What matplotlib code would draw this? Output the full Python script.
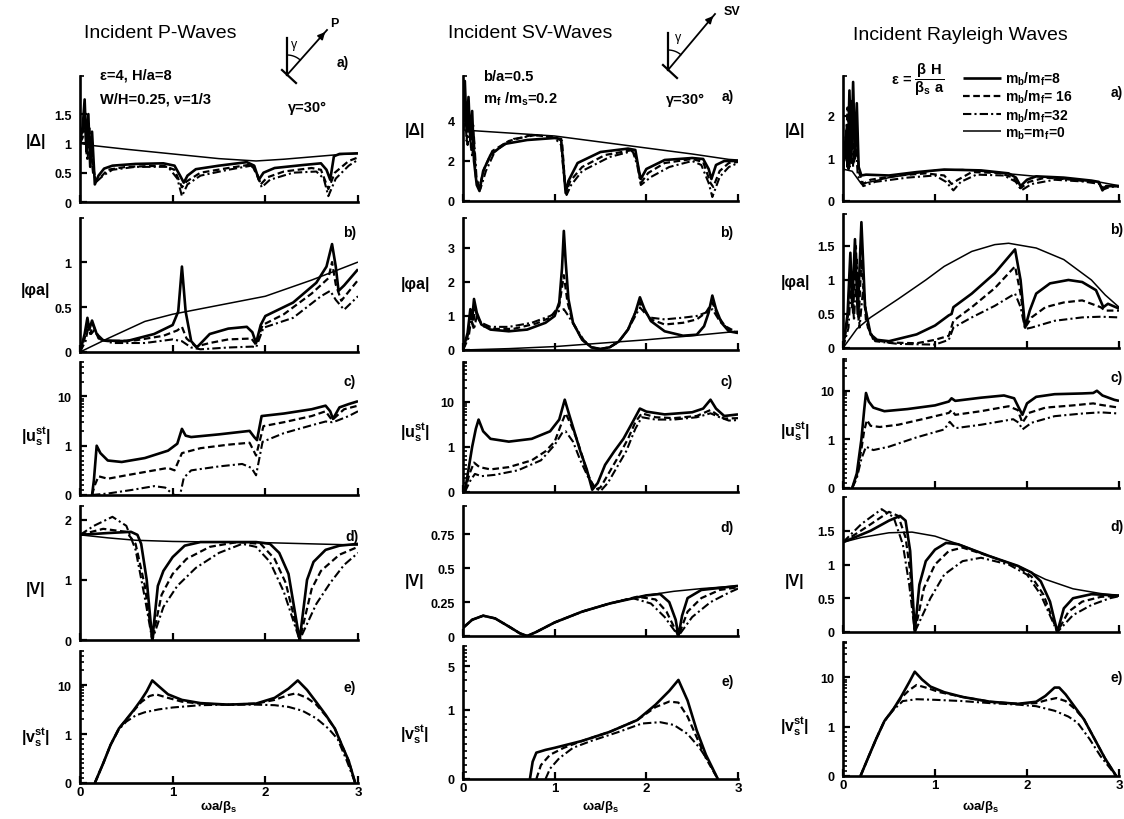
import numpy as np
import matplotlib
matplotlib.use("Agg")
import matplotlib.pyplot as plt
from matplotlib.lines import Line2D

plt.rcParams['font.family'] = ['Liberation Sans', 'DejaVu Sans']
plt.rcParams['mathtext.default'] = 'regular'

# ---------------- data ----------------
# each series is a list of (omega*a/beta_s, value) pairs
# m8 = solid, m16 = dashed, m32 = dash-dot, m0 = thin solid

# Incident P-waves
P_DELTA_M8 = [(0, 1.0), (0.03, 1.3), (0.05, 1.75), (0.07, 0.9), (0.09, 1.5), (0.11, 0.6), (0.13, 1.2), (0.16, 0.3),
              (0.2, 0.45), (0.26, 0.57), (0.35, 0.62), (0.6, 0.65), (0.9, 0.66), (1.02, 0.62), (1.08, 0.45),
              (1.12, 0.33), (1.16, 0.45), (1.25, 0.56), (1.5, 0.62), (1.8, 0.68), (1.88, 0.62), (1.93, 0.38),
              (1.98, 0.5), (2.1, 0.58), (2.4, 0.63), (2.6, 0.66), (2.66, 0.55), (2.7, 0.38), (2.74, 0.78),
              (2.8, 0.82), (3.0, 0.83)]
P_DELTA_M16 = [(0, 1.0), (0.03, 1.2), (0.05, 1.5), (0.07, 0.8), (0.1, 1.3), (0.13, 0.7), (0.17, 0.35), (0.22, 0.42),
               (0.3, 0.55), (0.5, 0.6), (0.9, 0.62), (1.02, 0.55), (1.1, 0.25), (1.15, 0.35), (1.3, 0.5),
               (1.6, 0.58), (1.85, 0.64), (1.9, 0.5), (1.95, 0.3), (2.02, 0.42), (2.2, 0.52), (2.5, 0.58),
               (2.6, 0.55), (2.68, 0.22), (2.75, 0.5), (2.9, 0.7), (3.0, 0.76)]
P_DELTA_M32 = [(0, 1.0), (0.03, 1.1), (0.05, 1.4), (0.08, 0.7), (0.1, 1.1), (0.14, 0.5), (0.18, 0.35), (0.25, 0.45),
               (0.35, 0.55), (0.6, 0.6), (0.95, 0.6), (1.05, 0.4), (1.1, 0.1), (1.16, 0.3), (1.3, 0.45),
               (1.6, 0.55), (1.85, 0.62), (1.92, 0.45), (1.96, 0.25), (2.05, 0.38), (2.3, 0.5), (2.55, 0.52),
               (2.63, 0.4), (2.68, 0.1), (2.76, 0.4), (2.9, 0.62), (3.0, 0.72)]
P_DELTA_M0 = [(0, 1.0), (0.1, 0.97), (0.5, 0.9), (1.0, 0.82), (1.5, 0.74), (1.9, 0.7), (2.2, 0.73), (2.5, 0.77),
              (2.8, 0.81), (3.0, 0.83)]

P_PHI_M8 = [(0, 0), (0.05, 0.2), (0.08, 0.38), (0.1, 0.25), (0.13, 0.35), (0.18, 0.2), (0.25, 0.13), (0.5, 0.12),
            (0.8, 0.2), (1.0, 0.3), (1.06, 0.45), (1.1, 0.95), (1.14, 0.45), (1.2, 0.12), (1.26, 0.05), (1.4, 0.2),
            (1.6, 0.26), (1.8, 0.28), (1.86, 0.22), (1.9, 0.1), (1.95, 0.3), (2.0, 0.4), (2.3, 0.55), (2.55, 0.77),
            (2.66, 0.95), (2.72, 1.2), (2.76, 0.95), (2.79, 0.68), (2.85, 0.74), (3.0, 0.92)]
P_PHI_M16 = [(0, 0), (0.05, 0.15), (0.08, 0.33), (0.11, 0.2), (0.14, 0.3), (0.2, 0.15), (0.3, 0.12), (0.6, 0.13),
             (0.9, 0.18), (1.05, 0.24), (1.1, 0.28), (1.15, 0.15), (1.25, 0.06), (1.4, 0.1), (1.6, 0.14),
             (1.85, 0.15), (1.9, 0.08), (1.97, 0.3), (2.2, 0.42), (2.5, 0.65), (2.68, 0.82), (2.72, 1.0),
             (2.76, 0.75), (2.82, 0.57), (3.0, 0.8)]
P_PHI_M32 = [(0, 0), (0.06, 0.12), (0.09, 0.28), (0.12, 0.2), (0.16, 0.25), (0.22, 0.14), (0.35, 0.1), (0.7, 0.1),
             (1.0, 0.14), (1.1, 0.12), (1.2, 0.05), (1.3, 0.03), (1.6, 0.05), (1.86, 0.06), (1.9, 0.05),
             (1.98, 0.27), (2.3, 0.38), (2.6, 0.62), (2.7, 0.68), (2.76, 0.58), (2.85, 0.47), (3.0, 0.62)]
P_PHI_M0 = [(0, 0), (0.3, 0.15), (0.7, 0.34), (1.0, 0.42), (1.5, 0.52), (2.0, 0.62), (2.5, 0.8), (2.75, 0.9),
            (3.0, 1.0)]

P_U_M8 = [(0.13, 0), (0.15, 0.3), (0.18, 1.0), (0.22, 0.85), (0.3, 0.7), (0.45, 0.67), (0.7, 0.75), (0.95, 0.9),
          (1.05, 1.1), (1.1, 2.2), (1.14, 1.6), (1.2, 1.5), (1.5, 1.7), (1.83, 2.0), (1.88, 1.5), (1.91, 1.3),
          (1.96, 4.0), (2.2, 4.5), (2.5, 5.5), (2.65, 6.5), (2.7, 5.0), (2.73, 3.5), (2.8, 6.0), (2.9, 7.0),
          (3.0, 8.0)]
P_U_M16 = [(0.13, 0), (0.16, 0.2), (0.2, 0.38), (0.3, 0.33), (0.5, 0.4), (0.8, 0.5), (0.95, 0.55), (1.02, 0.5),
           (1.1, 0.85), (1.3, 0.95), (1.6, 1.05), (1.83, 1.15), (1.9, 0.8), (1.98, 2.5), (2.2, 3.0), (2.5, 4.0),
           (2.65, 5.0), (2.72, 3.3), (2.85, 5.5), (3.0, 6.5)]
P_U_M32 = [(0.13, 0), (0.3, 0.03), (0.55, 0.1), (0.8, 0.18), (0.92, 0.15), (0.98, 0.05), (1.02, 0.0), (1.08, 0.0),
           (1.12, 0.35), (1.2, 0.5), (1.5, 0.58), (1.75, 0.63), (1.85, 0.55), (1.9, 0.4), (1.97, 1.2), (2.2, 1.8),
           (2.5, 2.6), (2.65, 3.1), (2.72, 3.0), (2.77, 3.2), (2.9, 4.0), (3.0, 5.0)]

P_V_M8 = [(0, 1.75), (0.3, 1.78), (0.55, 1.8), (0.62, 1.75), (0.66, 1.6), (0.72, 1.0), (0.78, 0.0), (0.84, 0.9),
          (0.9, 1.15), (1.0, 1.38), (1.13, 1.57), (1.3, 1.63), (1.9, 1.63), (2.05, 1.6), (2.15, 1.45), (2.25, 1.1),
          (2.37, 0), (2.45, 1.0), (2.52, 1.3), (2.65, 1.5), (2.8, 1.57), (3.0, 1.6)]
P_V_M16 = [(0, 1.75), (0.25, 1.85), (0.5, 1.8), (0.6, 1.6), (0.7, 0.9), (0.78, 0.0), (0.88, 0.75), (1.0, 1.1),
           (1.15, 1.35), (1.4, 1.55), (1.7, 1.63), (1.95, 1.6), (2.1, 1.35), (2.22, 0.95), (2.37, 0), (2.5, 0.85),
           (2.6, 1.15), (2.8, 1.42), (3.0, 1.55)]
P_V_M32 = [(0, 1.75), (0.15, 1.9), (0.35, 2.05), (0.5, 1.9), (0.6, 1.5), (0.7, 0.7), (0.78, 0.0), (0.9, 0.55),
           (1.05, 0.9), (1.25, 1.2), (1.5, 1.45), (1.75, 1.6), (1.9, 1.55), (2.05, 1.3), (2.2, 0.8), (2.37, 0),
           (2.55, 0.6), (2.7, 0.95), (2.85, 1.25), (3.0, 1.45)]
P_V_M0 = [(0, 1.75), (0.3, 1.7), (0.6, 1.66), (1.0, 1.64), (1.5, 1.63), (2.0, 1.62), (2.5, 1.6), (3.0, 1.58)]

P_VS_M8 = [(0.16, 0), (0.25, 0.4), (0.33, 0.78), (0.42, 1.3), (0.5, 2.0), (0.58, 3.1), (0.66, 5.0), (0.72, 7.5),
           (0.78, 12.5), (0.85, 9.5), (0.95, 6.5), (1.1, 5.0), (1.3, 4.3), (1.6, 4.0), (1.9, 4.2), (2.1, 5.5),
           (2.25, 8.5), (2.35, 12.5), (2.45, 8.0), (2.55, 4.5), (2.65, 2.5), (2.75, 1.3), (2.82, 0.8),
           (2.9, 0.45), (2.97, 0)]
P_VS_M16 = [(0.16, 0), (0.25, 0.4), (0.33, 0.78), (0.42, 1.3), (0.5, 2.0), (0.58, 3.0), (0.66, 4.5), (0.75, 6.0),
            (0.82, 6.5), (0.95, 5.5), (1.1, 4.6), (1.3, 4.2), (1.6, 4.0), (1.9, 4.2), (2.1, 5.0), (2.25, 6.3),
            (2.33, 6.8), (2.45, 5.5), (2.55, 4.0), (2.65, 2.4), (2.75, 1.3), (2.82, 0.8), (2.9, 0.45), (2.97, 0)]
P_VS_M32 = [(0.16, 0), (0.25, 0.4), (0.33, 0.78), (0.42, 1.25), (0.5, 1.8), (0.6, 2.4), (0.7, 2.8), (0.85, 3.2),
            (1.0, 3.5), (1.3, 3.9), (1.6, 4.0), (1.9, 4.0), (2.1, 3.9), (2.25, 3.6), (2.4, 3.0), (2.55, 2.1),
            (2.68, 1.3), (2.78, 0.9), (2.88, 0.45), (2.97, 0)]

# Incident SV-waves
SV_DELTA_M8 = [(0, 3.5), (0.02, 6.0), (0.04, 3.5), (0.06, 5.2), (0.08, 3.0), (0.1, 4.5), (0.12, 2.0), (0.15, 0.8),
               (0.18, 0.5), (0.22, 1.5), (0.3, 2.3), (0.45, 2.85), (0.7, 3.05), (1.0, 3.15), (1.07, 3.1),
               (1.1, 1.5), (1.12, 0.4), (1.15, 1.0), (1.25, 1.9), (1.5, 2.45), (1.8, 2.62), (1.88, 2.55),
               (1.92, 1.5), (1.94, 1.1), (2.0, 1.6), (2.2, 2.05), (2.5, 2.15), (2.62, 2.1), (2.68, 1.6),
               (2.71, 1.1), (2.76, 1.8), (2.85, 2.0), (3.0, 2.0)]
SV_DELTA_M16 = [(0, 3.5), (0.02, 4.8), (0.04, 3.0), (0.06, 4.5), (0.09, 2.5), (0.11, 3.8), (0.14, 1.2), (0.18, 0.7),
                (0.23, 1.6), (0.32, 2.5), (0.5, 3.0), (0.75, 3.3), (1.0, 3.2), (1.08, 3.0), (1.11, 1.0),
                (1.13, 0.5), (1.17, 1.0), (1.3, 1.7), (1.55, 2.3), (1.85, 2.55), (1.9, 2.0), (1.94, 0.9),
                (2.02, 1.4), (2.2, 1.9), (2.5, 2.1), (2.62, 1.95), (2.7, 0.9), (2.73, 0.7), (2.8, 1.5),
                (2.9, 1.9), (3.0, 1.95)]
SV_DELTA_M32 = [(0, 3.5), (0.03, 4.5), (0.05, 2.8), (0.07, 4.0), (0.1, 2.2), (0.12, 3.2), (0.15, 1.0), (0.19, 0.6),
                (0.25, 1.5), (0.35, 2.5), (0.55, 3.1), (0.8, 3.3), (1.0, 3.15), (1.07, 2.8), (1.1, 1.3),
                (1.13, 0.3), (1.18, 0.8), (1.3, 1.5), (1.6, 2.2), (1.85, 2.5), (1.9, 1.8), (1.94, 0.8),
                (2.05, 1.2), (2.25, 1.7), (2.5, 2.0), (2.6, 1.8), (2.68, 0.9), (2.72, 0.2), (2.8, 1.2),
                (2.9, 1.7), (3.0, 1.9)]
SV_DELTA_M0 = [(0, 3.55), (0.5, 3.4), (1.0, 3.25), (1.5, 2.95), (2.0, 2.65), (2.5, 2.35), (2.9, 2.08), (3.0, 2.05)]

SV_PHI_M8 = [(0, 0), (0.05, 0.5), (0.08, 1.2), (0.1, 0.9), (0.12, 1.5), (0.15, 1.1), (0.2, 0.75), (0.3, 0.6),
             (0.5, 0.55), (0.7, 0.6), (0.9, 0.8), (1.0, 1.0), (1.05, 1.4), (1.08, 2.4), (1.1, 3.5), (1.12, 2.6),
             (1.15, 1.5), (1.2, 0.8), (1.3, 0.3), (1.4, 0.08), (1.5, 0.03), (1.6, 0.08), (1.7, 0.25), (1.8, 0.6),
             (1.88, 1.1), (1.93, 1.55), (1.98, 1.2), (2.05, 0.85), (2.2, 0.55), (2.4, 0.42), (2.55, 0.45),
             (2.63, 0.7), (2.68, 1.1), (2.72, 1.6), (2.76, 1.2), (2.82, 0.8), (2.9, 0.55), (3.0, 0.5)]
SV_PHI_M16 = [(0, 0), (0.05, 0.4), (0.08, 1.0), (0.11, 0.7), (0.13, 1.2), (0.17, 0.9), (0.22, 0.7), (0.35, 0.62),
              (0.55, 0.62), (0.8, 0.78), (0.95, 0.95), (1.05, 1.3), (1.1, 2.2), (1.14, 1.4), (1.2, 0.8),
              (1.3, 0.3), (1.4, 0.08), (1.5, 0.03), (1.6, 0.08), (1.7, 0.25), (1.8, 0.6), (1.88, 1.1),
              (1.93, 1.4), (1.98, 1.15), (2.05, 0.9), (2.2, 0.75), (2.4, 0.8), (2.55, 0.9), (2.65, 1.1),
              (2.72, 1.4), (2.78, 1.0), (2.86, 0.7), (3.0, 0.5)]
SV_PHI_M32 = [(0, 0), (0.06, 0.35), (0.09, 0.9), (0.12, 0.6), (0.15, 1.0), (0.2, 0.8), (0.3, 0.68), (0.5, 0.68),
              (0.75, 0.8), (0.95, 1.0), (1.05, 1.15), (1.1, 1.2), (1.15, 1.0), (1.22, 0.7), (1.32, 0.28),
              (1.42, 0.06), (1.5, 0.03), (1.6, 0.08), (1.7, 0.25), (1.8, 0.6), (1.88, 1.0), (1.93, 1.25),
              (1.98, 1.1), (2.05, 0.95), (2.2, 0.9), (2.4, 0.95), (2.55, 1.0), (2.65, 1.1), (2.72, 1.2),
              (2.8, 0.85), (2.9, 0.6), (3.0, 0.5)]
SV_PHI_M0 = [(0, 0), (0.5, 0.04), (1.0, 0.1), (1.5, 0.2), (2.0, 0.3), (2.5, 0.42), (3.0, 0.55)]

SV_U_M8 = [(0.02, 0), (0.06, 0.5), (0.1, 1.0), (0.14, 2.5), (0.17, 4.0), (0.22, 2.2), (0.3, 1.5), (0.5, 1.3),
           (0.75, 1.5), (0.95, 2.2), (1.05, 4.0), (1.11, 11.0), (1.16, 5.0), (1.22, 2.0), (1.28, 0.9), (1.35, 0.5),
           (1.41, 0.05), (1.47, 0.2), (1.55, 0.6), (1.65, 0.9), (1.75, 1.5), (1.85, 3.5), (1.93, 7.0), (2.0, 6.0),
           (2.2, 5.2), (2.5, 5.8), (2.62, 7.0), (2.7, 11.0), (2.76, 7.0), (2.85, 4.8), (3.0, 5.2)]
SV_U_M16 = [(0.02, 0), (0.07, 0.4), (0.12, 0.65), (0.18, 0.55), (0.3, 0.5), (0.5, 0.55), (0.75, 0.7), (0.9, 0.9),
            (1.0, 1.3), (1.08, 3.5), (1.12, 5.5), (1.18, 3.0), (1.24, 1.5), (1.3, 0.8), (1.36, 0.4), (1.44, 0.05),
            (1.5, 0.1), (1.6, 0.45), (1.7, 0.8), (1.8, 1.5), (1.88, 3.5), (1.95, 5.5), (2.1, 4.5), (2.3, 4.3),
            (2.55, 4.8), (2.7, 6.5), (2.78, 5.0), (2.85, 4.2), (3.0, 4.3)]
SV_U_M32 = [(0.02, 0), (0.08, 0.25), (0.13, 0.4), (0.2, 0.35), (0.35, 0.38), (0.6, 0.48), (0.85, 0.7), (1.0, 1.1),
            (1.08, 2.0), (1.12, 2.2), (1.2, 1.3), (1.28, 0.7), (1.36, 0.35), (1.44, 0.1), (1.5, 0.02), (1.58, 0.2),
            (1.68, 0.55), (1.78, 0.9), (1.88, 2.5), (1.95, 4.5), (2.1, 4.0), (2.3, 4.0), (2.55, 4.5), (2.7, 5.5),
            (2.8, 4.5), (2.9, 3.8), (3.0, 3.9)]

SV_V_M0 = [(0, 0.06), (0.1, 0.12), (0.22, 0.15), (0.35, 0.13), (0.5, 0.07), (0.62, 0.02), (0.7, 0.0), (0.8, 0.03),
           (1.0, 0.1), (1.3, 0.18), (1.6, 0.24), (2.0, 0.3), (2.3, 0.33), (2.6, 0.35), (3.0, 0.37)]
SV_V_M8 = [(0, 0.06), (0.1, 0.12), (0.22, 0.15), (0.35, 0.13), (0.5, 0.07), (0.62, 0.02), (0.7, 0.0), (0.8, 0.03),
           (1.0, 0.1), (1.3, 0.18), (1.6, 0.24), (2.0, 0.3), (2.15, 0.31), (2.25, 0.25), (2.32, 0.12), (2.35, 0.0),
           (2.39, 0.15), (2.45, 0.28), (2.6, 0.34), (3.0, 0.37)]
SV_V_M16 = [(0, 0.06), (0.1, 0.12), (0.22, 0.15), (0.35, 0.13), (0.5, 0.07), (0.62, 0.02), (0.7, 0.0), (0.8, 0.03),
            (1.0, 0.1), (1.3, 0.18), (1.6, 0.24), (1.9, 0.29), (2.1, 0.27), (2.22, 0.18), (2.35, 0.0), (2.45, 0.18),
            (2.6, 0.28), (2.8, 0.34), (3.0, 0.36)]
SV_V_M32 = [(0, 0.06), (0.1, 0.12), (0.22, 0.15), (0.35, 0.13), (0.5, 0.07), (0.62, 0.02), (0.7, 0.0), (0.8, 0.03),
            (1.0, 0.1), (1.3, 0.18), (1.6, 0.24), (1.85, 0.28), (2.05, 0.24), (2.2, 0.14), (2.35, 0.0), (2.5, 0.14),
            (2.7, 0.25), (2.9, 0.32), (3.0, 0.35)]

SV_VS_M8 = [(0.73, 0), (0.76, 0.25), (0.8, 0.38), (0.9, 0.42), (1.0, 0.45), (1.3, 0.55), (1.6, 0.68), (1.9, 0.85),
            (2.1, 1.2), (2.25, 2.0), (2.35, 3.0), (2.45, 1.4), (2.55, 0.7), (2.65, 0.35), (2.78, 0)]
SV_VS_M16 = [(0.8, 0), (0.85, 0.2), (0.95, 0.35), (1.1, 0.45), (1.3, 0.55), (1.6, 0.68), (1.9, 0.85), (2.1, 1.1),
             (2.25, 1.35), (2.35, 1.3), (2.45, 0.9), (2.55, 0.6), (2.65, 0.3), (2.78, 0)]
SV_VS_M32 = [(0.9, 0), (0.95, 0.15), (1.05, 0.3), (1.2, 0.45), (1.4, 0.55), (1.7, 0.68), (1.95, 0.8), (2.15, 0.82),
             (2.3, 0.78), (2.45, 0.65), (2.58, 0.45), (2.68, 0.25), (2.78, 0)]

# Incident Rayleigh waves
R_DELTA_M8 = [(0, 0.7), (0.03, 1.5), (0.05, 0.8), (0.07, 2.6), (0.09, 0.9), (0.11, 2.8), (0.13, 1.0), (0.15, 2.3),
              (0.17, 0.8), (0.2, 0.6), (0.25, 0.62), (0.5, 0.6), (0.8, 0.68), (1.1, 0.74), (1.5, 0.72),
              (1.8, 0.65), (1.88, 0.55), (1.93, 0.35), (2.0, 0.5), (2.1, 0.58), (2.4, 0.55), (2.7, 0.48),
              (2.78, 0.45), (2.82, 0.25), (2.86, 0.35), (3.0, 0.35)]
R_DELTA_M16 = [(0, 0.7), (0.03, 1.2), (0.05, 2.2), (0.07, 0.8), (0.1, 2.4), (0.12, 0.9), (0.14, 2.0), (0.17, 0.7),
               (0.22, 0.4), (0.3, 0.5), (0.6, 0.6), (0.9, 0.65), (1.1, 0.6), (1.18, 0.4), (1.25, 0.5), (1.4, 0.68),
               (1.7, 0.66), (1.85, 0.55), (1.93, 0.3), (2.02, 0.45), (2.2, 0.55), (2.5, 0.5), (2.78, 0.43),
               (2.82, 0.28), (2.88, 0.35), (3.0, 0.35)]
R_DELTA_M32 = [(0, 0.7), (0.04, 1.8), (0.06, 0.7), (0.08, 2.1), (0.11, 0.8), (0.13, 1.7), (0.16, 0.6), (0.22, 0.35),
               (0.35, 0.45), (0.7, 0.55), (1.0, 0.6), (1.12, 0.45), (1.2, 0.25), (1.28, 0.45), (1.45, 0.62),
               (1.75, 0.6), (1.88, 0.45), (1.94, 0.25), (2.05, 0.4), (2.3, 0.5), (2.6, 0.46), (2.8, 0.4),
               (2.84, 0.28), (2.9, 0.33), (3.0, 0.34)]
R_DELTA_M0 = [(0, 0.75), (0.1, 0.7), (0.2, 0.4), (0.5, 0.55), (1.0, 0.72), (1.3, 0.74), (1.6, 0.68), (2.0, 0.6),
              (2.5, 0.5), (2.8, 0.44), (3.0, 0.36)]

R_PHI_M8 = [(0, 0), (0.05, 0.5), (0.08, 1.4), (0.1, 0.6), (0.13, 1.6), (0.16, 0.5), (0.2, 1.85), (0.24, 0.6),
            (0.3, 0.2), (0.37, 0.12), (0.5, 0.1), (0.8, 0.2), (1.0, 0.33), (1.15, 0.48), (1.18, 0.5), (1.2, 0.6),
            (1.4, 0.8), (1.65, 1.1), (1.87, 1.45), (1.93, 1.0), (1.98, 0.3), (2.03, 0.55), (2.1, 0.8),
            (2.25, 0.95), (2.45, 1.0), (2.6, 0.97), (2.75, 0.85), (2.83, 0.6), (2.88, 0.65), (3.0, 0.58)]
R_PHI_M16 = [(0, 0), (0.05, 0.4), (0.08, 1.2), (0.11, 0.5), (0.14, 1.5), (0.17, 0.4), (0.2, 1.3), (0.25, 0.4),
             (0.33, 0.12), (0.5, 0.08), (0.8, 0.07), (1.0, 0.12), (1.15, 0.18), (1.2, 0.4), (1.4, 0.6),
             (1.65, 0.88), (1.87, 1.2), (1.93, 0.8), (1.98, 0.3), (2.05, 0.45), (2.2, 0.6), (2.4, 0.67),
             (2.6, 0.7), (2.8, 0.6), (2.85, 0.55), (3.0, 0.55)]
R_PHI_M32 = [(0, 0), (0.06, 0.3), (0.09, 1.0), (0.12, 0.4), (0.15, 1.3), (0.18, 0.3), (0.22, 0.9), (0.27, 0.3),
             (0.35, 0.1), (0.6, 0.06), (1.0, 0.05), (1.15, 0.12), (1.2, 0.3), (1.4, 0.45), (1.65, 0.62),
             (1.87, 0.8), (1.93, 0.6), (1.98, 0.28), (2.05, 0.3), (2.3, 0.4), (2.6, 0.45), (2.8, 0.46), (3.0, 0.45)]
R_PHI_M0 = [(0, 0), (0.15, 0.28), (0.3, 0.45), (0.6, 0.72), (0.9, 1.0), (1.1, 1.2), (1.4, 1.42), (1.65, 1.52),
            (1.8, 1.54), (2.1, 1.47), (2.4, 1.3), (2.7, 1.0), (2.85, 0.78), (3.0, 0.6)]

R_U_M8 = [(0.1, 0), (0.15, 0.3), (0.2, 1.0), (0.23, 4.0), (0.25, 9.0), (0.28, 6.0), (0.33, 4.5), (0.45, 3.8),
          (0.7, 4.2), (1.0, 5.0), (1.15, 6.0), (1.18, 7.0), (1.22, 6.2), (1.5, 7.2), (1.75, 8.0), (1.86, 7.0),
          (1.91, 4.5), (1.95, 3.2), (2.0, 5.5), (2.1, 7.5), (2.3, 8.5), (2.6, 8.8), (2.72, 9.0), (2.76, 10.0),
          (2.82, 8.0), (2.95, 6.5), (3.0, 6.2)]
R_U_M16 = [(0.1, 0), (0.15, 0.25), (0.2, 0.8), (0.23, 1.5), (0.26, 2.5), (0.3, 1.9), (0.4, 1.8), (0.6, 2.0),
           (0.9, 2.7), (1.15, 3.5), (1.18, 4.0), (1.22, 3.2), (1.5, 3.8), (1.8, 4.8), (1.9, 4.0), (1.95, 2.2),
           (2.02, 3.5), (2.2, 4.5), (2.5, 5.0), (2.72, 5.5), (2.78, 5.2), (2.9, 4.8), (3.0, 4.5)]
R_U_M32 = [(0.1, 0), (0.15, 0.2), (0.2, 0.6), (0.25, 0.85), (0.33, 0.78), (0.5, 0.85), (0.8, 1.1), (1.1, 1.6),
           (1.16, 2.3), (1.22, 1.7), (1.5, 2.0), (1.85, 2.6), (1.91, 2.2), (1.95, 1.6), (2.05, 2.2), (2.3, 3.0),
           (2.6, 3.4), (2.8, 3.6), (3.0, 3.4)]

R_V_M0 = [(0, 1.33), (0.2, 1.4), (0.5, 1.47), (0.75, 1.48), (1.0, 1.42), (1.3, 1.28), (1.6, 1.12), (1.9, 0.98),
          (2.2, 0.78), (2.5, 0.64), (2.8, 0.57), (3.0, 0.54)]
R_V_M8 = [(0, 1.33), (0.3, 1.5), (0.5, 1.65), (0.62, 1.72), (0.68, 1.65), (0.73, 1.2), (0.78, 0.0), (0.83, 0.7),
          (0.9, 1.05), (1.0, 1.22), (1.12, 1.32), (1.25, 1.3), (1.6, 1.12), (1.9, 0.98), (2.05, 0.88), (2.15, 0.75),
          (2.25, 0.45), (2.33, 0.0), (2.4, 0.35), (2.5, 0.5), (2.7, 0.56), (3.0, 0.54)]
R_V_M16 = [(0, 1.33), (0.25, 1.55), (0.5, 1.78), (0.6, 1.72), (0.68, 1.4), (0.73, 0.9), (0.78, 0.0), (0.88, 0.65),
           (1.0, 1.0), (1.15, 1.2), (1.3, 1.25), (1.6, 1.12), (1.9, 0.97), (2.05, 0.82), (2.18, 0.55), (2.33, 0.0),
           (2.45, 0.3), (2.6, 0.45), (2.8, 0.52), (3.0, 0.54)]
R_V_M32 = [(0, 1.33), (0.2, 1.6), (0.42, 1.82), (0.55, 1.7), (0.65, 1.3), (0.72, 0.7), (0.78, 0.0), (0.95, 0.5),
           (1.1, 0.85), (1.3, 1.05), (1.5, 1.1), (1.8, 1.0), (2.0, 0.85), (2.15, 0.55), (2.33, 0.0), (2.5, 0.25),
           (2.7, 0.4), (2.9, 0.5), (3.0, 0.53)]

R_VS_M8 = [(0.19, 0), (0.28, 0.4), (0.36, 0.75), (0.45, 1.3), (0.55, 2.3), (0.63, 4.0), (0.72, 8.0), (0.78, 13.0),
           (0.86, 9.0), (0.95, 6.5), (1.1, 5.0), (1.3, 4.0), (1.6, 3.2), (1.9, 2.9), (2.1, 3.2), (2.2, 4.2),
           (2.3, 6.2), (2.35, 6.2), (2.42, 4.5), (2.52, 2.5), (2.62, 1.4), (2.72, 0.8), (2.85, 0.35), (2.97, 0)]
R_VS_M16 = [(0.19, 0), (0.28, 0.4), (0.36, 0.75), (0.45, 1.3), (0.55, 2.3), (0.63, 3.8), (0.72, 5.5), (0.8, 7.0),
            (0.9, 6.2), (1.05, 5.0), (1.3, 4.0), (1.6, 3.2), (1.9, 2.9), (2.1, 3.0), (2.2, 3.4), (2.32, 3.8),
            (2.42, 3.3), (2.52, 2.3), (2.62, 1.4), (2.72, 0.8), (2.85, 0.35), (2.97, 0)]
R_VS_M32 = [(0.19, 0), (0.28, 0.4), (0.36, 0.75), (0.45, 1.3), (0.55, 2.2), (0.65, 3.3), (0.8, 3.6), (1.0, 3.5),
            (1.3, 3.3), (1.6, 3.0), (1.9, 2.8), (2.1, 2.6), (2.3, 2.1), (2.45, 1.6), (2.55, 1.2), (2.68, 0.75),
            (2.8, 0.4), (2.97, 0)]

TITLES = ["Incident P-Waves", "Incident SV-Waves", "Incident Rayleigh Waves"]
YLABELS = ["|Δ|", "|φa|", "|u$_s^{st}$|", "|V|", "|v$_s^{st}$|"]
LEGEND_LABELS = ["m$_b$/m$_f$=8", "m$_b$/m$_f$= 16", "m$_b$/m$_f$=32", "m$_b$=m$_f$=0"]

# y ticks and limits per column / row
YTICKS = [
    [[0, 0.5, 1, 1.5], [0, 0.5, 1], [0, 1, 10], [0, 1, 2], [0, 1, 10]],
    [[0, 2, 4], [0, 1, 2, 3], [0, 1, 10], [0, 0.25, 0.5, 0.75], [0, 1, 5]],
    [[0, 1, 2], [0, 0.5, 1, 1.5], [0, 1, 10], [0, 0.5, 1, 1.5], [0, 1, 10]],
]
YTICKLABELS = [
    [["0", "0.5", "1", "1.5"], ["0", "0.5", "1"], ["0", "1", "10"], ["0", "1", "2"], ["0", "1", "10"]],
    [["0", "2", "4"], ["0", "1", "2", "3"], ["0", "1", "10"], ["0", "0.25", "0.5", "0.75"], ["0", "1", "5"]],
    [["0", "1", "2"], ["0", "0.5", "1", "1.5"], ["0", "1", "10"], ["0", "0.5", "1", "1.5"], ["0", "1", "10"]],
]
YTOP = [
    [2.15, 1.49, 50, 2.23, 50],
    [6.25, 3.88, 75, 0.96, 10.5],
    [2.94, 1.97, 45, 2.0, 52],
]

SERIES = [
    [(P_DELTA_M8, P_DELTA_M16, P_DELTA_M32, P_DELTA_M0), (P_PHI_M8, P_PHI_M16, P_PHI_M32, P_PHI_M0),
     (P_U_M8, P_U_M16, P_U_M32, None), (P_V_M8, P_V_M16, P_V_M32, P_V_M0), (P_VS_M8, P_VS_M16, P_VS_M32, None)],
    [(SV_DELTA_M8, SV_DELTA_M16, SV_DELTA_M32, SV_DELTA_M0), (SV_PHI_M8, SV_PHI_M16, SV_PHI_M32, SV_PHI_M0),
     (SV_U_M8, SV_U_M16, SV_U_M32, None), (SV_V_M8, SV_V_M16, SV_V_M32, SV_V_M0),
     (SV_VS_M8, SV_VS_M16, SV_VS_M32, None)],
    [(R_DELTA_M8, R_DELTA_M16, R_DELTA_M32, R_DELTA_M0), (R_PHI_M8, R_PHI_M16, R_PHI_M32, R_PHI_M0),
     (R_U_M8, R_U_M16, R_U_M32, None), (R_V_M8, R_V_M16, R_V_M32, R_V_M0), (R_VS_M8, R_VS_M16, R_VS_M32, None)],
]

# ---------------- layout (pixels of the 1124x820 picture) ----------------
W, H = 1124, 820
COL_X = [(80, 358), (463, 738), (843, 1119)]
ROW_Y = [
    [(77, 203), (219, 353), (363, 496), (507, 641), (652, 784)],
    [(77, 202), (219, 351), (363, 493), (507, 637), (647, 780)],
    [(77, 202), (215, 349), (360, 489), (498, 633), (643, 777)],
]
LETTER_POS = [
    [(343, 63), (350, 233), (350, 382), (352, 537), (350, 688)],
    [(728, 97), (727, 233), (727, 382), (727, 528), (728, 682)],
    [(1117, 93), (1117, 230), (1117, 378), (1117, 527), (1117, 678)],
]
YLABEL_POS = [
    [(36, 142), (36, 290), (36, 437), (36, 590), (36, 738)],
    [(415, 130), (415, 285), (415, 433), (415, 582), (415, 735)],
    [(795, 130), (795, 283), (795, 432), (795, 582), (795, 727)],
]

STYLES = [dict(ls="-", lw=1.9), dict(ls=(0, (3, 1.6)), lw=1.6),
          dict(ls=(0, (4, 1.5, 1, 1.5)), lw=1.5), dict(ls="-", lw=1.1)]


def fx(x):
    return x / W


def fy(y):
    return 1 - y / H


fig = plt.figure(figsize=(W / 100, H / 100), dpi=100)

legend_handles = []
for c in range(3):
    l, r = COL_X[c]
    for row in range(5):
        t, b = ROW_Y[c][row]
        ax = fig.add_axes([fx(l), fy(b), (r - l) / W, (b - t) / H])
        logscale = row in (2, 4)
        if logscale:
            ax.set_yscale("symlog", linthresh=1, linscale=1.0 if (c == 1 and row == 4) else 0.9)
        for k, data in enumerate(SERIES[c][row]):
            if data is None:
                continue
            xs = [p[0] for p in data]
            ys = [p[1] for p in data]
            ln, = ax.plot(xs, ys, color="black", solid_capstyle="butt", **STYLES[k])
            if c == 2 and row == 0:
                legend_handles.append(ln)
        ax.set_xlim(0, 3)
        ax.set_ylim(0, YTOP[c][row])
        ax.set_xticks([0, 1, 2, 3])
        ax.set_yticks(YTICKS[c][row])
        ax.set_yticklabels(YTICKLABELS[c][row], fontsize=9, fontweight="bold")
        if logscale:
            top = YTOP[c][row]
            minors = [i / 10 for i in range(1, 10)] + [m for m in (2, 3, 4, 5, 6, 7, 8, 9, 20, 30, 40, 50, 60, 70)
                                                        if m < top]
            ax.set_yticks(minors + [top], minor=True)
        else:
            ax.set_yticks([YTOP[c][row]], minor=True)
        ax.tick_params(axis="both", which="major", direction="in", length=5, width=1.6)
        ax.tick_params(axis="y", which="minor", direction="in", length=3, width=1.2)
        ax.tick_params(axis="y", pad=6)
        if row == 4:
            ax.set_xticklabels(["0", "1", "2", "3"], fontsize=9.5, fontweight="bold")
            ax.tick_params(axis="x", pad=2)
        else:
            ax.set_xticklabels([])
        for s in ("top", "right"):
            ax.spines[s].set_visible(False)
        for s in ("left", "bottom"):
            ax.spines[s].set_linewidth(1.9)
        ax.patch.set_alpha(0)
        lx, ly = LETTER_POS[c][row]
        fig.text(fx(lx), fy(ly), "abcde"[row] + ")", fontsize=10, fontweight="bold", ha="center", va="center")
        yx, yy = YLABEL_POS[c][row]
        fig.text(fx(yx), fy(yy), YLABELS[row], fontsize=11.5, fontweight="bold", ha="center", va="center")
        if c == 2 and row == 0:
            ax.legend(legend_handles, LEGEND_LABELS, loc="upper left", bbox_to_anchor=(fx(963), fy(71)),
                      bbox_transform=fig.transFigure, frameon=False, handlelength=2.7, handletextpad=0.3,
                      labelspacing=0.05, borderpad=0, borderaxespad=0,
                      prop={"size": 10, "weight": "bold"})
    fig.text(fx((l + r) / 2), fy(807), "ωa/β$_s$", fontsize=9.5, fontweight="bold", ha="center", va="center")

# column titles
fig.text(fx(160), fy(33), TITLES[0], fontsize=14, ha="center", va="center")
fig.text(fx(530), fy(33), TITLES[1], fontsize=14, ha="center", va="center")
fig.text(fx(960), fy(35), TITLES[2], fontsize=14, ha="center", va="center")

# parameter notes
fig.text(fx(100), fy(75), "ε=4, H/a=8", fontsize=10.5, fontweight="bold", ha="left", va="center")
fig.text(fx(100), fy(99), "W/H=0.25, ν=1/3", fontsize=10.5, fontweight="bold", ha="left", va="center")
fig.text(fx(483), fy(77), "b/a=0.5", fontsize=10.5, fontweight="bold", ha="left", va="center")
fig.text(fx(483), fy(99), "m$_f$ /m$_s$=0.2", fontsize=10.5, fontweight="bold", ha="left", va="center")
fig.text(fx(307), fy(108), "γ=30°", fontsize=10.5, fontweight="bold", ha="center", va="center")
fig.text(fx(685), fy(100), "γ=30°", fontsize=10.5, fontweight="bold", ha="center", va="center")
fig.text(fx(918), fy(80), r"ε = $\dfrac{\beta\ H}{\beta_s\ a}$", fontsize=10.5, fontweight="bold",
         ha="center", va="center")


# incidence sketches
def sketch(bx, by, tx, ty, foot, lab, labpos, gpos):
    fig.add_artist(Line2D([fx(bx), fx(bx)], [fy(by), fy(by - 37)], color="black", lw=1.6))
    fig.add_artist(Line2D([fx(foot[0]), fx(foot[2])], [fy(foot[1]), fy(foot[3])], color="black", lw=1.6))
    fig.add_artist(Line2D([fx(bx), fx(tx)], [fy(by), fy(ty)], color="black", lw=1.3))
    ax0 = fig.axes[0]
    ax0.annotate("", xy=(fx(tx), fy(ty)), xytext=(fx(tx - 9), fy(ty + 10)), xycoords="figure fraction",
                 textcoords="figure fraction",
                 arrowprops=dict(arrowstyle="-|>", color="black", lw=1.3, mutation_scale=10))
    ang0 = np.arctan2(by - ty, tx - bx)
    th = np.linspace(ang0, np.pi / 2, 12)
    rad = 20
    fig.add_artist(Line2D([fx(bx + rad * np.cos(a)) for a in th], [fy(by - rad * np.sin(a)) for a in th],
                          color="black", lw=1.0))
    fig.text(fx(labpos[0]), fy(labpos[1]), lab, fontsize=9, fontweight="bold", ha="center", va="center")
    fig.text(fx(gpos[0]), fy(gpos[1]), "γ", fontsize=9, ha="center", va="center")


sketch(287, 76, 327, 31, (282, 71, 296, 84), "P", (334, 24), (294, 45))
sketch(668, 71, 715, 15, (663, 66, 677, 79), "SV", (732, 12), (678, 38))

fig.savefig("out.png", dpi=100)
